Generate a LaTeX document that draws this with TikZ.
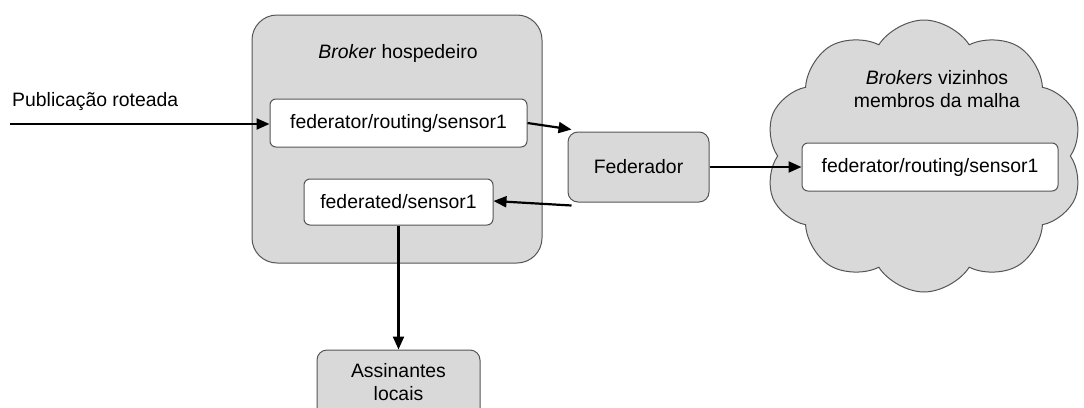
\documentclass[tikz,border=0pt]{standalone}
\usepackage{fontspec}
\setmainfont{Liberation Sans}
\usetikzlibrary{shapes.symbols,arrows.meta}
\definecolor{boxgray}{HTML}{D9D9D9}
\definecolor{edgegray}{HTML}{555555}
\tikzset{
  every node/.style={font=\fontsize{19.4}{23}\selectfont},
  graybox/.style={draw=edgegray, line width=1pt, fill=boxgray},
  whitebox/.style={draw=edgegray, line width=1pt, fill=white, rounded corners=6pt, inner sep=0pt},
  flow/.style={draw=black, line width=2.2pt, -{Triangle[length=13pt,width=11pt]}},
}
\begin{document}
\begin{tikzpicture}[x=1pt,y=-1pt]
\useasboundingbox (0,0) rectangle (1084,407);

% host broker container
\node[graybox, rounded corners=25pt, minimum width=290pt, minimum height=248pt, inner sep=0pt]
  (host) at (397,139) {};
\node (hosttitle) at (398,53) {\textit{Broker} hospedeiro};
\node[whitebox, minimum width=257pt, minimum height=48pt] (route) at (398.5,123) {federator/routing/sensor1};
\node[whitebox, minimum width=189pt, minimum height=46pt] (local) at (398.5,202) {federated/sensor1};

% federator process
\node[graybox, rounded corners=10pt, minimum width=141pt, minimum height=70pt, inner sep=0pt]
  (fed) at (638.5,167) {Federador};

% neighbour brokers cloud
\node[cloud, graybox, cloud puffs=10, cloud puff arc=115, aspect=1.2,
  minimum width=318pt, minimum height=272pt, inner sep=0pt] (mesh) at (924,156) {};
\node[align=center] (meshtitle) at (937,89) {\textit{Brokers} vizinhos\\membros da malha};
\node[whitebox, minimum width=256pt, minimum height=48pt] (remote) at (930,167) {federator/routing/sensor1};

% local subscribers (cut by the lower edge)
\node[graybox, rounded corners=10pt, minimum width=163pt, minimum height=70pt, inner sep=0pt]
  (subs) at (398.5,385) {};
\node[align=center] (substext) at (398.5,382) {Assinantes\\locais};

% incoming publication
\coordinate (src) at (10,124);
\node[anchor=west, inner sep=0pt] (pub) at (12,102) {Publicação roteada};

\draw[flow] (src) -- (route.west |- src);
\draw[flow] (route.east) -- ([xshift=4pt,yshift=2pt]fed.north west);
\draw[flow] ([xshift=4pt,yshift=-3pt]fed.south west) -- ([yshift=1pt]local.east);
\draw[flow] (fed.east) -- (remote.west);
\draw[flow] (local.south) -- (subs.north);
\end{tikzpicture}
\end{document}
